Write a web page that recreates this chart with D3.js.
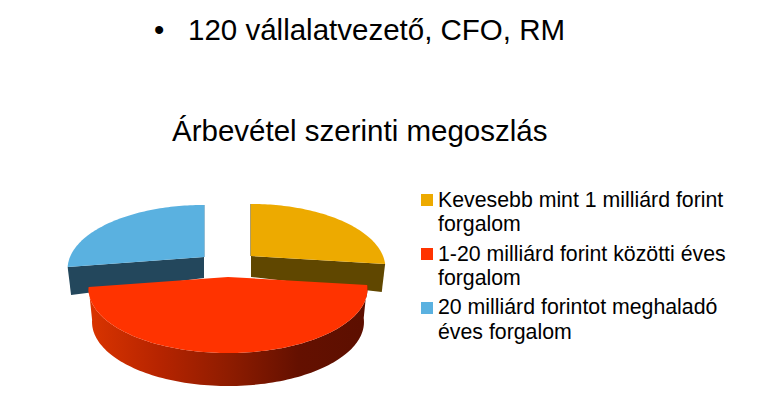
<!DOCTYPE html>
<html>
<head>
<meta charset="utf-8">
<script src="https://cdn.jsdelivr.net/npm/d3@7"></script>
<style>
  html, body { margin: 0; padding: 0; background: #fff; }
  text { font-family: "Liberation Sans", Arial, sans-serif; fill: #000; }
</style>
</head>
<body>
<script>
// Values
const categories = [
  ['Kevesebb mint 1 milliárd forint', 'forgalom'],
  ['1-20 milliárd forint közötti éves', 'forgalom'],
  ['20 milliárd forintot meghaladó', 'éves forgalom']
];
const shares = [27, 45.5, 27.5];
const colors = ['#edaa00', '#ff3300', '#5ab1e0'];
const wallColors = ['#604700', '#8a1c00', '#23475c'];
const edgeColors = ['#7a5a00', '#8a1c00', '#4a90b8'];
const headline = '120 vállalatvezető, CFO, RM';
const title = 'Árbevétel szerinti megoszlás';

const svgWidth = 767;
const svgHeight = 405;

const svg = d3.select('body').append('svg')
  .attr('width', svgWidth)
  .attr('height', svgHeight)
  .style('display', 'block');

// Heading texts
svg.append('text').attr('x', 154).attr('y', 40).attr('font-size', 29.5).text('•');
svg.append('text').attr('x', 188).attr('y', 40).attr('font-size', 29.5).text(headline);
svg.append('text').attr('x', 172).attr('y', 141).attr('font-size', 29.5).text(title);

// Gradient of the front wall
const defs = svg.append('defs');
const wallGradient = defs.append('linearGradient')
  .attr('id', 'redWall')
  .attr('gradientUnits', 'userSpaceOnUse')
  .attr('x1', 90).attr('x2', 368).attr('y1', 0).attr('y2', 0);
[[0, '#d93400'], [0.25, '#b62400'], [0.5, '#8e1c00'], [0.75, '#641000'], [1, '#5c0f00']]
  .forEach(s => wallGradient.append('stop').attr('offset', s[0]).attr('stop-color', s[1]));

// Exploded slice centres on the top surface, and how wide each one reads
const centers = [
  { x: 251, y: 256, rx: 132, wall: 28 },
  { x: 228, y: 277, rx: 137, wall: 33 },
  { x: 204, y: 257, rx: 134, wall: 28 }
];
const discY = 61.8;
const perspective = 0.187;

// Tilted disc in perspective: the near half looks deeper than the far half
function project(c, angle) {
  const z = 1 + perspective * Math.cos(angle);
  return {
    x: c.x + c.rx * Math.sin(angle) / z,
    y: c.y - discY * Math.cos(angle) / z
  };
}

// Where a rim point lands on the bottom surface
function dropRim(c, p) {
  return { x: c.x + (p.x - c.x) * 0.975, y: p.y + c.wall };
}

const pieData = d3.pie().sort(null).value(d => d)(shares);
const line = d3.line().x(d => d.x).y(d => d.y);

function rimAngles(d) {
  const n = Math.ceil((d.endAngle - d.startAngle) * 40);
  return d3.range(n + 1).map(i => d.startAngle + (d.endAngle - d.startAngle) * i / n);
}

function drawSlice(i) {
  const d = pieData[i];
  const c = centers[i];
  const g = svg.append('g');
  const rim = rimAngles(d).map(a => project(c, a));
  const lowRim = rim.map(p => dropRim(c, p));
  const apex = { x: c.x, y: c.y };
  const lowApex = { x: c.x, y: c.y + 21 };

  if (i === 1) {
    // red slice shows its outer wall
    g.append('path')
      .attr('d', line(rim.concat(lowRim.slice().reverse())) + 'Z')
      .attr('fill', 'url(#redWall)');
  } else {
    // the other two show the cut face toward the front
    const outer = project(c, i === 0 ? d.endAngle : d.startAngle);
    g.append('path')
      .attr('d', line([apex, outer, dropRim(c, outer), lowApex]) + 'Z')
      .attr('fill', wallColors[i]);
    // thin sliver along the cut facing the gap
    g.append('path')
      .attr('d', line([project(c, i === 0 ? d.startAngle : d.endAngle), apex]))
      .attr('fill', 'none')
      .attr('stroke', edgeColors[i])
      .attr('stroke-width', 1.2);
  }

  g.append('path')
    .attr('d', line([apex].concat(rim)) + 'Z')
    .attr('fill', colors[i]);
}

// Far slices first, the red one sits in front
[0, 2, 1].forEach(drawSlice);

// Legend
const legendRows = [
  { box: 194, lines: [207, 231] },
  { box: 248, lines: [261, 285] },
  { box: 302, lines: [314, 339] }
];
const legend = svg.append('g');
categories.forEach((cat, i) => {
  legend.append('rect')
    .attr('x', 421).attr('y', legendRows[i].box)
    .attr('width', 12).attr('height', 12)
    .attr('fill', colors[i]);
  cat.forEach((t, j) => {
    legend.append('text')
      .attr('x', 438).attr('y', legendRows[i].lines[j])
      .attr('font-size', 21.3)
      .text(t);
  });
});
</script>
</body>
</html>
